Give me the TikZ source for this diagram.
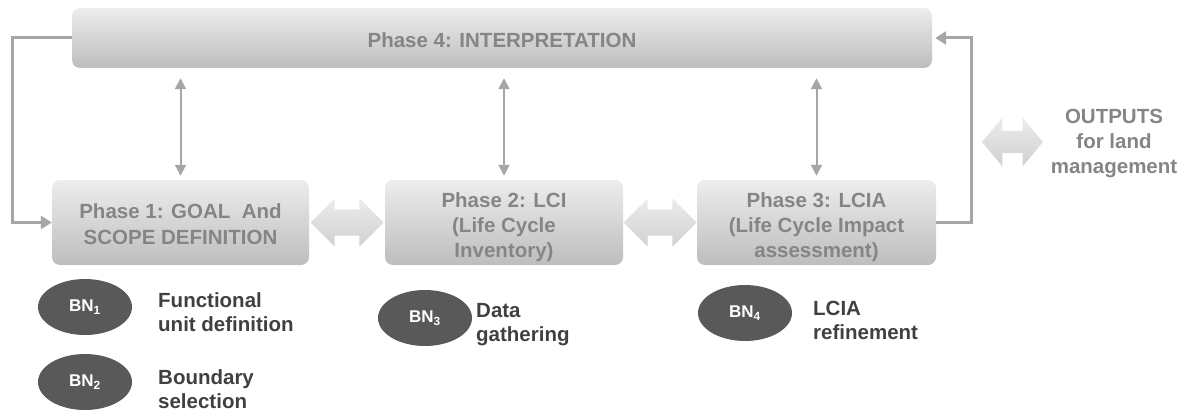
\documentclass[tikz,border=0pt]{standalone}
\usepackage{fontspec}
\setmainfont{Liberation Sans}
\usetikzlibrary{arrows.meta,shapes.arrows,shapes.geometric,calc}

\definecolor{boxtop}{HTML}{EDEDED}
\definecolor{boxbot}{HTML}{BDBDBD}
\definecolor{phasetext}{HTML}{858585}
\definecolor{linkgray}{HTML}{A6A6A6}
\definecolor{dbltop}{HTML}{ECECEC}
\definecolor{dblbot}{HTML}{D0D0D0}
\definecolor{bnfill}{HTML}{595959}
\definecolor{labeltext}{HTML}{404040}

% invisible strut that lowers a centred block of lines
\newcommand\lowerby[1]{\rule{0pt}{#1}}

\begin{document}
\begin{tikzpicture}[x=1pt,y=-1pt,
  phasebox/.style={rounded corners=8pt, top color=boxtop, bottom color=boxbot,
    draw=none, text=phasetext, align=center, inner sep=0pt,
    font=\fontsize{20.5}{26}\selectfont\bfseries},
  dblarrow/.style={double arrow, draw=none, top color=dbltop, bottom color=dblbot,
    inner xsep=0pt, inner ysep=13pt, double arrow head extend=11pt},
  vlink/.style={draw=linkgray, line width=2pt,
    {Triangle[length=11pt,width=11pt]}-{Triangle[length=11pt,width=11pt]}},
  fblink/.style={draw=linkgray, line width=3pt,
    -{Triangle[length=11pt,width=13pt]}},
  bn/.style={ellipse, fill=bnfill, text=white, inner sep=0pt,
    minimum width=94pt, minimum height=56pt,
    font=\fontsize{17}{20}\selectfont\bfseries},
  bnlabel/.style={anchor=west, align=left, text=labeltext, inner sep=0pt,
    font=\fontsize{20.5}{24}\selectfont\bfseries},
  outtext/.style={align=center, text=phasetext, inner sep=0pt,
    font=\fontsize{20.5}{25}\selectfont\bfseries}]

\useasboundingbox (0,0) rectangle (1188,412);

% the four phases
\node[phasebox, minimum width=860pt, minimum height=60pt] (p4) at (502,38)
  {\lowerby{19pt}Phase 4: INTERPRETATION};
\node[phasebox, minimum width=257pt, minimum height=85pt] (p1) at (180.5,222.5)
  {\lowerby{19pt}Phase 1: GOAL~ And\\SCOPE DEFINITION};
\node[phasebox, minimum width=238pt, minimum height=85pt,
  font=\fontsize{20.5}{25}\selectfont\bfseries] (p2) at (504,222.5)
  {\lowerby{24pt}Phase 2: LCI\\(Life Cycle\\Inventory)};
\node[phasebox, minimum width=239pt, minimum height=85pt,
  font=\fontsize{20.5}{25}\selectfont\bfseries] (p3) at (816.5,222.5)
  {\lowerby{24pt}Phase 3: LCIA\\(Life Cycle Impact\\assessment)};

% two-way links between neighbouring phases
\node[dblarrow, minimum height=73pt] (d12) at ($(p1.east)!0.5!(p2.west)$) {};
\node[dblarrow, minimum height=73pt] (d23) at ($(p2.east)!0.5!(p3.west)$) {};

% links between the interpretation phase and the others
\foreach \p in {p1,p2,p3} {
  \path (p4.south -| \p.north) coordinate (\p top);
  \draw[vlink] ([yshift=-10pt]\p top) -- ([yshift=4pt]\p.north);
}

% feedback loops
\draw[fblink] (p4.west) -- ++(-59,0) |- (p1.west);
\draw[fblink] (p3.east) -- ++(35,0) |- ([xshift=3pt]p4.east);

% outputs
\node[dblarrow, minimum height=61pt, inner ysep=11pt, double arrow head extend=13pt,
  double arrow tip angle=100] (dout) at (1012.5,142) {};
\node[outtext] (out) at (1114,144) {OUTPUTS\\for land\\management};

% building blocks
\node[bn] (bn1) at (85,307) {BN\textsubscript{1}};
\node[bn] (bn2) at (85,382) {BN\textsubscript{2}};
\node[bn] (bn3) at (425,318) {BN\textsubscript{3}};
\node[bn] (bn4) at (745,313) {BN\textsubscript{4}};

\node[bnlabel] (l1) at (158,312) {Functional\\unit definition};
\node[bnlabel] (l2) at (158,389) {Boundary\\selection};
\node[bnlabel] (l3) at (476,325) {Data\\gathering};
\node[bnlabel] (l4) at (813,320) {LCIA\\refinement};
\end{tikzpicture}
\end{document}
